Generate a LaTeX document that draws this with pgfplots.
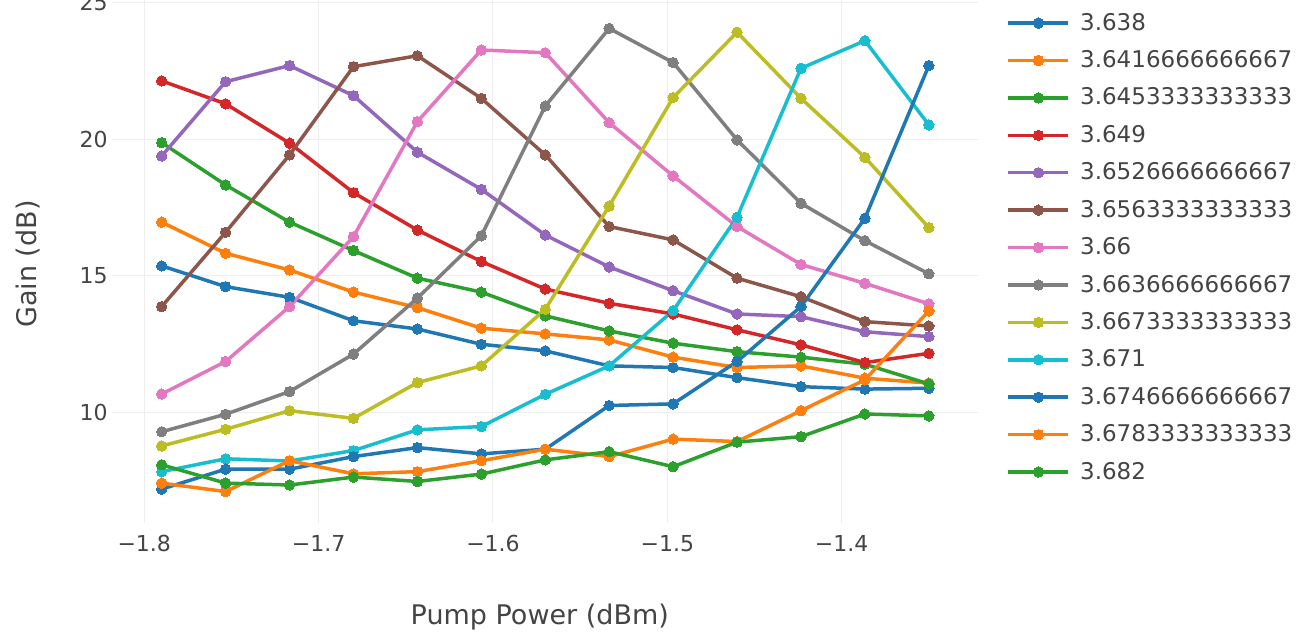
\documentclass[border=0pt]{standalone}
\usepackage{pgfplots}
\usepackage{pgfplotstable}
\usepackage{fontspec}
\setmainfont{DejaVu Sans}
\pgfplotsset{compat=1.18}
\definecolor{c1}{HTML}{1F77B4}
\definecolor{c2}{HTML}{FF7F0E}
\definecolor{c3}{HTML}{2CA02C}
\definecolor{c4}{HTML}{D62728}
\definecolor{c5}{HTML}{9467BD}
\definecolor{c6}{HTML}{8C564B}
\definecolor{c7}{HTML}{E377C2}
\definecolor{c8}{HTML}{7F7F7F}
\definecolor{c9}{HTML}{BCBD22}
\definecolor{c10}{HTML}{17BECF}
\definecolor{txt}{HTML}{444444}
\definecolor{grd}{HTML}{EEEEEE}
\pgfplotstableread{
x s1 s2 s3 s4 s5 s6 s7 s8 s9 s10 s11 s12 s13
-1.79 15.37 16.97 19.88 22.14 19.39 13.88 10.68 9.30 8.78 7.84 7.20 7.42 8.09
-1.753333 14.61 15.83 18.33 21.30 22.11 16.60 11.87 9.94 9.39 8.31 7.93 7.11 7.42
-1.716667 14.22 15.22 16.97 19.86 22.70 19.43 13.88 10.77 10.07 8.23 7.93 8.24 7.35
-1.68 13.36 14.41 15.93 18.05 21.60 22.66 16.44 12.14 9.79 8.61 8.39 7.76 7.64
-1.643333 13.06 13.84 14.92 16.68 19.53 23.06 20.65 14.19 11.10 9.37 8.72 7.84 7.48
-1.606667 12.50 13.09 14.41 15.53 18.17 21.50 23.27 16.47 11.71 9.49 8.49 8.24 7.75
-1.57 12.26 12.88 13.54 14.52 16.50 19.43 23.17 21.22 13.78 10.67 8.66 8.66 8.27
-1.533333 11.71 12.66 12.99 14.00 15.33 16.81 20.61 24.06 17.56 11.71 10.26 8.39 8.57
-1.496667 11.65 12.03 12.54 13.61 14.46 16.32 18.66 22.81 21.53 13.73 10.32 9.03 8.02
-1.46 11.28 11.65 12.23 13.03 13.61 14.92 16.81 19.98 23.92 17.15 11.87 8.94 8.92
-1.423333 10.95 11.71 12.03 12.48 13.51 14.24 15.42 17.66 21.50 22.60 13.88 10.07 9.12
-1.386667 10.86 11.26 11.77 11.83 12.96 13.33 14.73 16.29 19.34 23.61 17.11 11.20 9.95
-1.35 10.89 11.08 11.05 12.17 12.78 13.17 13.98 15.08 16.77 20.53 22.70 13.72 9.88
}\datatable
\begin{document}
\begin{tikzpicture}
\begin{axis}[
  name=ax,
  scale only axis,
  width=433pt, height=261.5pt,
  xmin=-1.8185, xmax=-1.3218,
  ymin=5.96, ymax=25.1,
  axis line style={draw=none},
  major tick length=0pt,
  xtick={-1.8,-1.7,-1.6,-1.5,-1.4},
  xticklabels={−1.8,−1.7,−1.6,−1.5,−1.4},
  ytick={10,15,20,25},
  yticklabels={10,15,20,25},
  grid=major,
  major grid style={grd, line width=0.5pt},
  tick label style={font=\fontsize{11}{13}\selectfont, text=txt},
  xticklabel style={anchor=north, inner sep=0pt, yshift=-6pt},
  yticklabel style={anchor=east, inner sep=0pt, xshift=-2pt},
  xlabel={Pump Power (dBm)},
  ylabel={Gain (dB)},
  every axis x label/.style={at={(rel axis cs:0.494,-0.18)}, anchor=center, font=\fontsize{13.5}{16}\selectfont, text=txt},
  every axis y label/.style={at={(rel axis cs:-0.097,0.495)}, rotate=90, anchor=center, font=\fontsize{13.5}{16}\selectfont, text=txt},
  legend cell align=left,
  legend image code/.code={\draw[mark repeat=2,mark phase=2] plot coordinates {(0pt,0pt) (15pt,0pt) (30pt,0pt)};},
  legend style={draw=none, fill=none, at={(1.0331,0.975)}, anchor=north west,
    inner sep=0pt, outer sep=0pt, row sep=8.67pt,
    font=\fontsize{11.5}{13}\selectfont, text=txt,
    nodes={inner sep=0pt}},
  /tikz/every odd column/.append style={column sep=5pt},
  every axis plot/.append style={line width=1.75pt, mark=*, mark size=2.6pt, mark options={line width=0pt}},
]
\addplot[c1] table[x=x,y=s1]{\datatable};
\addlegendentry{3.638}
\addplot[c2] table[x=x,y=s2]{\datatable};
\addlegendentry{3.6416666666667}
\addplot[c3] table[x=x,y=s3]{\datatable};
\addlegendentry{3.6453333333333}
\addplot[c4] table[x=x,y=s4]{\datatable};
\addlegendentry{3.649}
\addplot[c5] table[x=x,y=s5]{\datatable};
\addlegendentry{3.6526666666667}
\addplot[c6] table[x=x,y=s6]{\datatable};
\addlegendentry{3.6563333333333}
\addplot[c7] table[x=x,y=s7]{\datatable};
\addlegendentry{3.66}
\addplot[c8] table[x=x,y=s8]{\datatable};
\addlegendentry{3.6636666666667}
\addplot[c9] table[x=x,y=s9]{\datatable};
\addlegendentry{3.6673333333333}
\addplot[c10] table[x=x,y=s10]{\datatable};
\addlegendentry{3.671}
\addplot[c1] table[x=x,y=s11]{\datatable};
\addlegendentry{3.6746666666667}
\addplot[c2] table[x=x,y=s12]{\datatable};
\addlegendentry{3.6783333333333}
\addplot[c3] table[x=x,y=s13]{\datatable};
\addlegendentry{3.682}
\end{axis}
\pgfresetboundingbox
\path[use as bounding box] (-56pt,-56.5pt) rectangle (596pt,261.5pt);
\end{tikzpicture}
\end{document}
